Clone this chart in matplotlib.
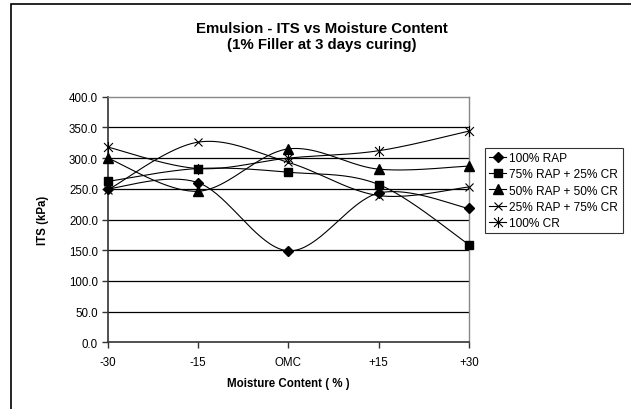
import numpy as np
import matplotlib
matplotlib.use("Agg")
import matplotlib.pyplot as plt
from matplotlib.path import Path
from matplotlib.patches import Rectangle
from matplotlib.lines import Line2D

plt.rcParams['font.family'] = ['Liberation Sans', 'DejaVu Sans']

categories = ["-30", "-15", "OMC", "+15", "+30"]
series_names = ["100% RAP", "75% RAP + 25% CR", "50% RAP + 50% CR",
                "25% RAP + 75% CR", "100% CR"]
rap100 = [250, 260, 149, 243, 218]
rap75_cr25 = [262, 283, 277, 257, 159]
rap50_cr50 = [300, 246, 315, 282, 287]
rap25_cr75 = [248, 326, 293, 239, 253]
cr100 = [318, 283, 300, 312, 344]
y_ticks = [0, 50, 100, 150, 200, 250, 300, 350, 400]

all_series = [rap100, rap75_cr25, rap50_cr50, rap25_cr75, cr100]

star = Path([(-1, -1), (1, 1), (-1, 1), (1, -1), (0, -1.25), (0, 1.25)],
            [Path.MOVETO, Path.LINETO, Path.MOVETO, Path.LINETO, Path.MOVETO, Path.LINETO])
markers = [dict(marker='D', markersize=5),
           dict(marker='s', markersize=6),
           dict(marker='^', markersize=6.5),
           dict(marker='x', markersize=6, markeredgewidth=0.8),
           dict(marker=star, markersize=8, markeredgewidth=0.8)]

W, H = 631, 410
fig = plt.figure(figsize=(W / 100, H / 100), dpi=100)
fig.patch.set_facecolor('white')
fig.patches.append(Rectangle((11 / W, -0.1), 2, 1.1 - 5 / H, transform=fig.transFigure,
                             fill=False, edgecolor='black', linewidth=1.2))

L, R, T, B = 107.7, 469, 97.7, 343.3
ax = fig.add_axes([L / W, 1 - B / H, (R - L) / W, (B - T) / H])

xs = np.arange(len(categories))
ymax = 400.0
sx = (R - L) / (len(categories) - 1)
sy = (B - T) / ymax


def smooth(x, y, n=40):
    px = np.asarray(x, float) * sx
    py = np.asarray(y, float) * sy
    P = np.column_stack([px, py])
    P = np.vstack([P[0], P, P[-1]])
    out = []
    for i in range(1, len(P) - 2):
        p0, p1, p2, p3 = P[i - 1], P[i], P[i + 1], P[i + 2]
        c1 = p1 + (p2 - p0) / 6.0
        c2 = p2 - (p3 - p1) / 6.0
        t = np.linspace(0, 1, n)[:, None]
        seg = ((1 - t) ** 3) * p1 + 3 * ((1 - t) ** 2) * t * c1 + 3 * (1 - t) * t ** 2 * c2 + t ** 3 * p2
        out.append(seg if i == 1 else seg[1:])
    out = np.vstack(out)
    return out[:, 0] / sx, out[:, 1] / sy


for yt in y_ticks[1:-1]:
    ax.axhline(yt, color='black', linewidth=0.9, zorder=1)

for vals, mk in zip(all_series, markers):
    cx, cy = smooth(xs, vals)
    ax.plot(cx, cy, color='black', linewidth=0.8, zorder=3)
    ax.plot(xs, vals, linestyle='none', color='black', markerfacecolor='black',
            markeredgecolor='black', zorder=4, clip_on=False, **mk)

ax.set_xlim(0, len(categories) - 1)
ax.set_ylim(0, ymax)
ax.set_xticks(xs)
ax.set_xticklabels(categories, fontsize=8.3)
ax.set_yticks(y_ticks)
ax.set_yticklabels([f"{v:.1f}" for v in y_ticks], fontsize=8.3)
ax.tick_params(axis='both', direction='out', length=4, width=1, color='#333333', pad=3)
ax.tick_params(axis='x', pad=6)
for s in ['left', 'bottom']:
    ax.spines[s].set_color('#333333')
    ax.spines[s].set_linewidth(1.2)
for s in ['top', 'right']:
    ax.spines[s].set_color('#888888')
    ax.spines[s].set_linewidth(1.0)

ax.set_xlabel("Moisture Content ( % )", fontsize=8.3, fontweight='bold', labelpad=6)
ax.set_ylabel("ITS (kPa)", fontsize=8.3, fontweight='bold', labelpad=14)

fig.text(322 / W, 1 - 37 / H, "Emulsion - ITS vs Moisture Content\n(1% Filler at 3 days curing)",
         ha='center', va='center', fontsize=10.8, fontweight='bold', linespacing=1.15)

handles = [Line2D([0], [0], color='black', linewidth=0.8, markerfacecolor='black',
                  markeredgecolor='black', **mk) for mk in markers]
leg = fig.legend(handles, series_names, loc='upper left',
                 bbox_to_anchor=(485 / W, 1 - 149 / H), fontsize=8.6,
                 frameon=True, fancybox=False, edgecolor='black', handlelength=1.4,
                 handletextpad=0.3, labelspacing=0.35, borderpad=0.35, borderaxespad=0)
leg.get_frame().set_linewidth(0.8)

fig.savefig("out.png", dpi=100, facecolor='white')
